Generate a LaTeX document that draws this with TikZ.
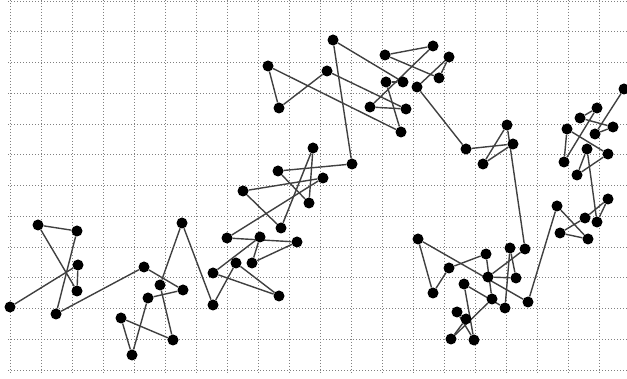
\documentclass[tikz,border=0pt]{standalone}
\usetikzlibrary{backgrounds}
\begin{document}
\begin{tikzpicture}[x=1pt,y=-1pt,
  gridline/.style={black!50, line width=0.75pt, dash pattern=on 0.8pt off 2.2pt},
  walkdot/.style={circle, fill=black, inner sep=0pt, minimum size=11pt},
  walkline/.style={black!75, line width=1.4pt}]
\useasboundingbox (0,0) rectangle (627,379);
\foreach \x/\y [count=\i] in {10/307, 78/265, 77/291, 38/225, 77/231, 56/314, 144/267, 183/290, 148/298, 132/355,
  121/318, 173/340, 160/285, 182/223, 213/305, 236/263, 279/296, 213/273, 260/237, 252/263,
  297/242, 227/238, 323/178, 243/191, 281/228, 313/148, 309/203, 278/171, 352/164, 333/40,
  403/82, 386/82, 401/132, 268/66, 279/108, 327/71, 406/109, 370/107, 433/46, 385/55,
  439/78, 449/57, 417/87, 466/149, 513/144, 483/164, 507/125, 525/249, 488/277, 516/278,
  510/248, 505/308, 464/284, 474/340, 457/312, 466/319, 451/339, 492/299, 486/254, 449/268,
  433/293, 418/239, 528/302, 557/206, 588/239, 560/233, 585/218, 608/199, 597/222, 587/149,
  577/175, 608/154, 567/129, 564/162, 597/108, 580/118, 613/127, 595/134, 624/89}
  \node[walkdot] (p\i) at (\x,\y) {};
\begin{pgfonlayer}{background}
\foreach \k in {0,...,19} \draw[gridline] ({10+31*\k},0) -- ({10+31*\k},373);
\foreach \k in {0,...,12} \draw[gridline] (8,{1+30.75*\k}) -- (627,{1+30.75*\k});
\foreach \i [evaluate=\i as \j using int(\i+1)] in {1,...,78}
  \draw[walkline] (p\i) -- (p\j);
\end{pgfonlayer}
\end{tikzpicture}
\end{document}
